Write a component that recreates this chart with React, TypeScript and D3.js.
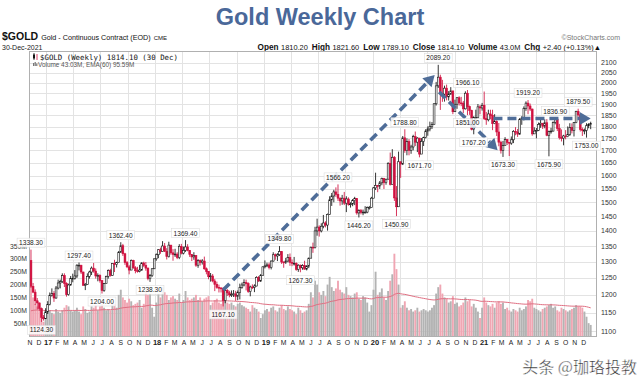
import React from "react";
import * as d3 from "d3";

// ---------- DATA (weekly) ----------
const firstWeek = "2016-11-11";
const firstOpen = 1304;

const close2016 = [1225, 1208, 1183, 1177, 1161, 1137, 1133, 1152];
const high2016 = [1338.3, 1235, 1216, 1191, 1178, 1164, 1143, 1162];
const low2016 = [1220, 1205, 1171, 1159, 1155, 1124.3, 1128, 1133];
const vol2016 = [190, 150, 125, 115, 100, 105, 55, 70];

const close2017 = [1173, 1199, 1204, 1191, 1220, 1235, 1239, 1257, 1234, 1201, 1229, 1249, 1249, 1256, 1289, 1289, 1268, 1228, 1231, 1255, 1268, 1280, 1271, 1256, 1257, 1242, 1213, 1233, 1255, 1273, 1258, 1294, 1291, 1297, 1330, 1351, 1325, 1297, 1284, 1274, 1304, 1281, 1272, 1270, 1274, 1296, 1288, 1280, 1248, 1257, 1278, 1309];
const high2017 = [1182, 1207, 1219, 1211, 1226, 1245, 1245, 1264, 1264, 1237, 1233, 1256, 1263, 1274, 1292, 1297.4, 1290, 1269, 1235, 1264, 1272, 1285, 1296, 1279, 1264, 1261, 1243, 1235, 1257, 1276, 1278, 1295, 1306, 1300, 1334, 1362.4, 1357, 1328, 1302, 1290, 1307, 1306, 1286, 1284, 1290, 1298, 1300, 1299, 1282, 1262, 1280, 1310];
const low2017 = [1146, 1170, 1195, 1180, 1189, 1216, 1219, 1235, 1223, 1195, 1198, 1227, 1237, 1245, 1250, 1273, 1262, 1227, 1214, 1230, 1248, 1259, 1266, 1248, 1240, 1236, 1204, 1209, 1233, 1248, 1254, 1257, 1268, 1282, 1297, 1328, 1318, 1290, 1280, 1261, 1275, 1278, 1264, 1266, 1267, 1272, 1283, 1272, 1243, 1238.3, 1253, 1277];
const vol2017 = [95, 100, 90, 85, 105, 95, 90, 100, 110, 120, 115, 100, 95, 100, 110, 95, 85, 115, 105, 90, 95, 115, 110, 120, 100, 115, 125, 110, 100, 105, 100, 130, 125, 110, 160, 180, 150, 140, 130, 145, 135, 120, 125, 130, 140, 110, 125, 175, 160, 165, 110, 75];

const close2018 = [1322, 1338, 1333, 1350, 1333, 1316, 1353, 1328, 1323, 1324, 1313, 1349, 1327, 1336, 1347, 1336, 1323, 1315, 1320, 1289, 1304, 1297, 1302, 1278, 1270, 1254, 1256, 1241, 1231, 1222, 1220, 1219, 1184, 1213, 1206, 1200, 1201, 1203, 1196, 1207, 1222, 1229, 1236, 1233, 1210, 1223, 1222, 1226, 1252, 1241, 1258, 1284];
const high2018 = [1326, 1340, 1345, 1366, 1360, 1343, 1364, 1353, 1340, 1341, 1330, 1356, 1357, 1348, 1369.4, 1356, 1337, 1323, 1330, 1320, 1308, 1307, 1308, 1316, 1282, 1271, 1265, 1262, 1247, 1239, 1230, 1223, 1222, 1217, 1217, 1212, 1213, 1214, 1212, 1213, 1233, 1236, 1246, 1245, 1237, 1227, 1231, 1231, 1255, 1256, 1262, 1285];
const low2018 = [1303, 1311, 1325, 1332, 1331, 1307, 1313, 1322, 1303, 1315, 1308, 1308, 1323, 1323, 1331, 1333, 1315, 1302, 1306, 1284, 1281, 1288, 1291, 1275, 1261, 1246, 1239, 1237, 1211, 1218, 1207, 1207, 1167.1, 1176, 1197, 1193, 1194, 1194, 1183, 1185, 1187, 1218, 1225, 1213, 1206, 1196, 1217, 1208, 1225, 1238, 1238, 1258];
const vol2018 = [130, 165, 150, 190, 170, 160, 140, 150, 155, 145, 140, 165, 130, 140, 175, 150, 140, 145, 150, 160, 140, 150, 135, 145, 150, 155, 120, 130, 140, 145, 130, 125, 165, 140, 130, 125, 130, 120, 115, 125, 130, 120, 115, 110, 105, 95, 120, 110, 105, 95, 70, 85];

const close2019 = [1287, 1290, 1282, 1302, 1322, 1318, 1322, 1332, 1299, 1298, 1302, 1313, 1298, 1295, 1295, 1276, 1289, 1281, 1288, 1277, 1286, 1311, 1346, 1345, 1400, 1413, 1400, 1416, 1427, 1420, 1457, 1509, 1523, 1538, 1529, 1515, 1505, 1515, 1497, 1512, 1493, 1494, 1506, 1514, 1462, 1470, 1464, 1465, 1465, 1481, 1481, 1515];
const high2019 = [1304, 1297, 1297, 1304, 1330, 1326, 1327, 1349.8, 1333, 1301, 1312, 1324, 1326, 1307, 1315, 1298, 1292, 1291, 1292, 1303, 1289, 1313, 1348, 1361, 1414, 1442, 1419, 1426, 1455, 1433, 1460, 1522, 1534, 1546, 1555, 1566.2, 1518, 1527, 1538, 1522, 1518, 1500, 1512, 1520, 1515, 1475, 1476, 1474, 1486, 1485, 1487, 1520];
const low2019 = [1279, 1283, 1276, 1276, 1300, 1306, 1302, 1318, 1293, 1281, 1293, 1298, 1287, 1286, 1288, 1272, 1268.5, 1267.3, 1275, 1275, 1273, 1280, 1314, 1328, 1342, 1384, 1381, 1395, 1409, 1412, 1401, 1455, 1487, 1500, 1520, 1505, 1488, 1491, 1490, 1465, 1488, 1481, 1486, 1490, 1456, 1446.2, 1457, 1454, 1460, 1461, 1474, 1481];
const vol2019 = [100, 105, 95, 110, 115, 100, 95, 110, 120, 105, 100, 115, 105, 100, 95, 85, 110, 100, 90, 95, 100, 125, 170, 150, 215, 200, 170, 160, 175, 155, 200, 230, 190, 175, 185, 215, 180, 170, 165, 190, 160, 155, 150, 165, 170, 145, 140, 155, 150, 130, 95, 120];

const close2020 = [1553, 1562, 1560, 1572, 1589, 1573, 1586, 1648, 1566, 1672, 1516, 1484, 1654, 1645, 1752, 1699, 1736, 1700, 1714, 1757, 1734, 1751, 1685, 1737, 1754, 1781, 1790, 1801, 1810, 1902, 1986, 2028, 1949, 1947, 1975, 1934, 1947, 1962, 1866, 1900, 1930, 1906, 1905, 1879, 1951, 1889, 1872, 1788, 1840, 1840, 1888, 1883];
const high2020 = [1556, 1611, 1564, 1579, 1592, 1591, 1587, 1652, 1691, 1705, 1677, 1560, 1695, 1655, 1760, 1788.8, 1750, 1747, 1723, 1765, 1779, 1755, 1752, 1751, 1757, 1789, 1801, 1822, 1820, 1905, 2005, 2089.2, 2040, 2015, 1987, 1992, 1961, 1980, 1962, 1921, 1933, 1937, 1934, 1915, 1960, 1966.1, 1894, 1875, 1846, 1875, 1901, 1896];
const low2020 = [1518, 1545, 1537, 1549, 1563, 1549, 1565, 1585, 1562, 1574, 1505, 1450.9, 1483, 1591, 1641, 1690, 1680, 1680, 1686, 1700, 1718, 1693, 1671.7, 1688, 1718, 1750, 1761, 1780, 1790, 1815, 1894, 1976, 1874, 1911, 1912, 1918, 1917, 1944, 1855, 1871, 1879, 1894, 1891, 1860, 1876, 1851, 1852, 1784, 1767.2, 1820, 1836, 1855];
const vol2020 = [180, 250, 160, 170, 185, 150, 140, 175, 215, 240, 320, 260, 200, 110, 120, 135, 110, 100, 105, 95, 100, 110, 95, 100, 105, 100, 95, 100, 110, 120, 165, 190, 200, 165, 150, 145, 130, 135, 155, 125, 130, 115, 120, 130, 150, 135, 140, 115, 125, 110, 95, 70];

const close2021 = [1895, 1835, 1830, 1856, 1850, 1813, 1823, 1777, 1734, 1700, 1720, 1745, 1733, 1730, 1744, 1780, 1777, 1768, 1831, 1838, 1881, 1905, 1892, 1878, 1769, 1781, 1784, 1810, 1815, 1802, 1817, 1763, 1779, 1781, 1819, 1833, 1792, 1753, 1751, 1760, 1757, 1767, 1796, 1784, 1818, 1868, 1852, 1788, 1784, 1784, 1804, 1810, 1814.1];
const high2021 = [1906, 1959, 1865, 1875, 1875, 1875, 1855, 1828, 1816, 1740, 1739, 1755, 1747, 1733, 1758, 1785, 1798, 1790, 1838, 1846, 1890, 1913, 1919.2, 1903, 1880, 1797, 1794, 1818, 1834, 1816, 1832, 1833, 1783, 1795, 1823, 1836.9, 1834, 1812, 1788, 1765, 1785, 1801, 1815, 1814, 1819, 1870, 1879.5, 1856, 1796, 1792, 1815, 1815, 1821.6];
const low2021 = [1871, 1829, 1808, 1823, 1832, 1785, 1811, 1760, 1717, 1687, 1673.3, 1718, 1722, 1677, 1723, 1730, 1763, 1756, 1765, 1808, 1827, 1870, 1855, 1869, 1761, 1770, 1750, 1781, 1795, 1790, 1793, 1759, 1675.9, 1770, 1779, 1810, 1781, 1745, 1737, 1721, 1746, 1755, 1760, 1771, 1758, 1815, 1844, 1779, 1760, 1767, 1753, 1793, 1789.1];
const vol2021 = [110, 150, 130, 120, 115, 125, 110, 130, 135, 125, 130, 105, 110, 100, 95, 105, 100, 95, 110, 100, 105, 115, 140, 135, 145, 110, 105, 100, 95, 105, 110, 115, 120, 125, 110, 115, 100, 95, 110, 105, 100, 95, 100, 105, 110, 120, 115, 115, 110, 95, 75, 50, 43];

const volumeEmaStart = 95;
const emaPeriod = 60;

const priceTicks = [1100, 1150, 1200, 1250, 1300, 1350, 1400, 1450, 1500, 1550, 1600, 1650, 1700, 1750, 1800, 1850, 1900, 1950, 2000, 2050, 2100];
const volumeTicks = [50, 100, 150, 200, 250, 300, 350];
const monthLetters = ["J", "F", "M", "A", "M", "J", "J", "A", "S", "O", "N", "D"];

const highLabels = [1338.3, 1297.4, 1362.4, 1369.4, 1349.8, 1566.2, 1788.8, 2089.2, 1966.1, 1919.2, 1836.9, 1879.5];
const lowLabels = [1124.3, 1204.0, 1238.3, 1167.1, 1267.3, 1446.2, 1450.9, 1671.7, 1851.0, 1767.2, 1673.3, 1675.9, 1753.0];

const arrowFrom = [["2018-08-17", 1214], ["2020-08-10", 1957], ["2021-02-08", 1836]] as [string, number][];
const arrowTo = [["2020-07-26", 2039], ["2021-02-22", 1701], ["2021-12-31", 1836]] as [string, number][];

const quoteLabels = ["Open", "High", "Low", "Close", "Volume", "Chg"];
const quoteValues = ["1810.20", "1821.60", "1789.10", "1814.10", "43.0M", "+2.40 (+0.13%)\u25B2"];

// ---------- BUILD ----------
const parse = d3.timeParse("%Y-%m-%d");
const closes = [...close2016, ...close2017, ...close2018, ...close2019, ...close2020, ...close2021];
const highs = [...high2016, ...high2017, ...high2018, ...high2019, ...high2020, ...high2021];
const lows = [...low2016, ...low2017, ...low2018, ...low2019, ...low2020, ...low2021];
const vols = [...vol2016, ...vol2017, ...vol2018, ...vol2019, ...vol2020, ...vol2021];

type Bar = { date: Date; open: number; high: number; low: number; close: number; vol: number; ema: number };
const start = parse(firstWeek) as Date;
const bars: Bar[] = [];
{
  let prev = firstOpen;
  let ema = volumeEmaStart;
  const k = 2 / (emaPeriod + 1);
  closes.forEach((c, i) => {
    ema = ema + k * (vols[i] - ema);
    bars.push({ date: d3.timeDay.offset(start, 7 * i), open: prev, high: highs[i], low: lows[i], close: c, vol: vols[i], ema });
    prev = c;
  });
}

const PL = 29, PR = 597, PT = 51, PB = 337;
const x = d3.scaleTime().domain([new Date(2016, 10, 1), new Date(2022, 0, 1)]).range([28, 591]);
const y = d3.scaleLog().domain([1100, 2100]).range([331, 62.7]);
const yv = d3.scaleLinear().domain([0, 350]).range([336, 246]);

const RED = "#d0103f";
const BLK = "#111";
const ARROW = "#4f6d98";

function Arrow({ from, to }: { from: [string, number]; to: [string, number] }) {
  const x1 = x(parse(from[0]) as Date), y1 = y(from[1]);
  const x2 = x(parse(to[0]) as Date), y2 = y(to[1]);
  const ang = Math.atan2(y2 - y1, x2 - x1);
  const hl = 11, hw = 6.5;
  const bx = x2 - hl * Math.cos(ang), by = y2 - hl * Math.sin(ang);
  const px = -Math.sin(ang), py = Math.cos(ang);
  return (
    <g>
      <line x1={x1} y1={y1} x2={bx} y2={by} stroke={ARROW} strokeWidth={3.6} strokeDasharray="9,5" />
      <path d={`M${x2},${y2}L${bx + px * hw},${by + py * hw}L${bx - px * hw},${by - py * hw}Z`} fill={ARROW} />
    </g>
  );
}

function Label({ cx, cy, text }: { cx: number; cy: number; text: string }) {
  const w = text.length * 3.55 + 3;
  return (
    <g>
      <rect x={cx - w / 2} y={cy - 4.5} width={w} height={9} fill="#fff" fillOpacity={0.85} stroke="#d8d8d8" strokeWidth={0.5} />
      <text x={cx} y={cy + 2.4} fontSize={6.6} textAnchor="middle" fill="#222" fontFamily="Liberation Sans, Arial, sans-serif">{text}</text>
    </g>
  );
}

export default function App() {
  const months = d3.timeMonth.range(new Date(2016, 10, 1), new Date(2022, 0, 1));
  const quarters = d3.timeMonth.every(3)!.range(new Date(2016, 10, 1), new Date(2022, 0, 1));
  const emaLine = d3.line<Bar>().x((d) => x(d.date)).y((d) => yv(d.ema));

  const findBar = (v: number, kind: "h" | "l") => bars.find((b) => (kind === "h" ? b.high : b.low) === v)!;

  return (
    <svg width={640} height={386} style={{ position: "absolute", left: 0, top: 0, background: "#fff" }} fontFamily="Liberation Sans, Arial, sans-serif">
      <rect x={0} y={0} width={640} height={386} fill="#fff" />
      {/* title */}
      <text x={320} y={25} textAnchor="middle" fontSize={23.5} fontWeight="bold" fill="#4a6899">Gold Weekly Chart</text>

      {/* header */}
      <text x={2} y={40} fill="#111">
        <tspan fontSize={10.5} fontWeight="bold">$GOLD</tspan>
        <tspan fontSize={7.2} dx={3}>Gold - Continuous Contract (EOD)</tspan>
        <tspan fontSize={6} dx={3}>CME</tspan>
      </text>
      <text x={2} y={50} fontSize={7} fill="#222">30-Dec-2021</text>
      <text x={620} y={40} fontSize={7} fill="#777" textAnchor="end">©StockCharts.com</text>
      <text x={601} y={50} fontSize={7.4} fill="#111" textAnchor="end">
        {quoteLabels.map((l, i) => (
          <React.Fragment key={l}>
            <tspan fontWeight="bold" fontSize={8.2} dx={i === 0 ? 0 : 4}>{l}</tspan>
            <tspan dx={2.5}>{quoteValues[i]}</tspan>
          </React.Fragment>
        ))}
      </text>

      {/* plot frame and grid */}
      <rect x={PL} y={PT} width={PR - PL} height={PB - PT} fill="#fff" />
      <g stroke="#e3e3e3" strokeWidth={1}>
        {priceTicks.map((p) => (
          <line key={p} x1={PL} x2={PR} y1={Math.round(y(p)) + 0.5} y2={Math.round(y(p)) + 0.5} />
        ))}
        {quarters.map((q) => (
          <line key={+q} x1={Math.round(x(q)) + 0.5} x2={Math.round(x(q)) + 0.5} y1={PT} y2={PB} />
        ))}
      </g>

      <defs>
        <clipPath id="plotClip">
          <rect x={PL} y={PT} width={PR - PL} height={PB - PT} />
        </clipPath>
      </defs>

      <g clipPath="url(#plotClip)">
        {/* volume */}
        {bars.map((b, i) => {
          const up = b.close >= b.open;
          return (
            <rect key={"v" + i} x={x(b.date) - 0.95} y={yv(b.vol)} width={1.9} height={yv(0) - yv(b.vol)} fill={up ? "#b3b3b3" : "#f0a6b3"} />
          );
        })}
        <path d={emaLine(bars) || ""} fill="none" stroke="#e06f82" strokeWidth={1} />

        {/* candles */}
        {bars.map((b, i) => {
          const up = b.close >= b.open;
          const c = up ? BLK : RED;
          const cx = x(b.date);
          const hi = Math.max(b.high, b.open, b.close);
          const lo = Math.min(b.low, b.open, b.close);
          const top = y(Math.max(b.open, b.close));
          const bot = y(Math.min(b.open, b.close));
          return (
            <g key={"c" + i}>
              <line x1={cx} x2={cx} y1={y(hi)} y2={y(lo)} stroke={c} strokeWidth={0.85} />
              <rect x={cx - 0.9} y={top} width={1.8} height={Math.max(0.8, bot - top)} fill={up ? "#fff" : c} stroke={c} strokeWidth={0.6} />
            </g>
          );
        })}
      </g>

      {/* border */}
      <rect x={PL + 0.5} y={PT + 0.5} width={PR - PL - 1} height={PB - PT - 1} fill="none" stroke="#b0b0b0" strokeWidth={1} />

      {/* right price axis */}
      {priceTicks.map((p) => (
        <text key={"pt" + p} x={601} y={y(p) + 2.5} fontSize={7} fill="#333">{p}</text>
      ))}
      {/* left volume axis */}
      {volumeTicks.map((v) => (
        <text key={"vt" + v} x={27} y={yv(v) + 2.5} fontSize={6.8} fill="#333" textAnchor="end">{v}M</text>
      ))}
      {/* month labels */}
      {months.map((m) => {
        const jan = m.getMonth() === 0;
        return (
          <text key={"m" + +m} x={x(m) + 2} y={345} fontSize={jan ? 7.5 : 6.8} fontWeight={jan ? "bold" : "normal"} fill="#222" textAnchor="middle">
            {jan ? d3.timeFormat("%y")(m) : monthLetters[m.getMonth()]}
          </text>
        );
      })}

      {/* legend inside plot */}
      <g>
        <line x1={34} x2={34} y1={53} y2={60} stroke={BLK} strokeWidth={0.8} />
        <rect x={33} y={54.5} width={2} height={4} fill={BLK} />
        <line x1={37} x2={37} y1={54} y2={60} stroke={RED} strokeWidth={0.8} />
        <text x={40} y={59.5} fontSize={7.4} fontFamily="DejaVu Sans Mono, monospace" fill="#111">$GOLD (Weekly) 1814.10 (30 Dec)</text>
        <rect x={33} y={63} width={1.2} height={3} fill="#777" />
        <rect x={34.6} y={62} width={1.2} height={4} fill="#777" />
        <rect x={36.2} y={63.5} width={1.2} height={2.5} fill="#777" />
        <text x={38} y={66.5} fontSize={6.4} fill="#555">Volume 43.03M, EMA(60) 95.59M</text>
      </g>

      {/* arrows */}
      {arrowFrom.map((f, i) => (
        <Arrow key={"a" + i} from={f} to={arrowTo[i]} />
      ))}

      {/* annotations */}
      {highLabels.map((v) => {
        const b = findBar(v, "h");
        return <Label key={"h" + v} cx={x(b.date)} cy={y(v) - 7} text={v.toFixed(2)} />;
      })}
      {lowLabels.map((v) => {
        const b = findBar(v, "l");
        return <Label key={"l" + v} cx={x(b.date)} cy={y(v) + 8} text={v.toFixed(2)} />;
      })}

      {/* watermark */}
      <text x={637} y={373} textAnchor="end" fontSize={16} fill="#2a2a2a" stroke="#fff" strokeWidth={0.4} fontFamily="Noto Sans CJK SC, sans-serif">头条 @珈珞投教</text>
    </svg>
  );
}
